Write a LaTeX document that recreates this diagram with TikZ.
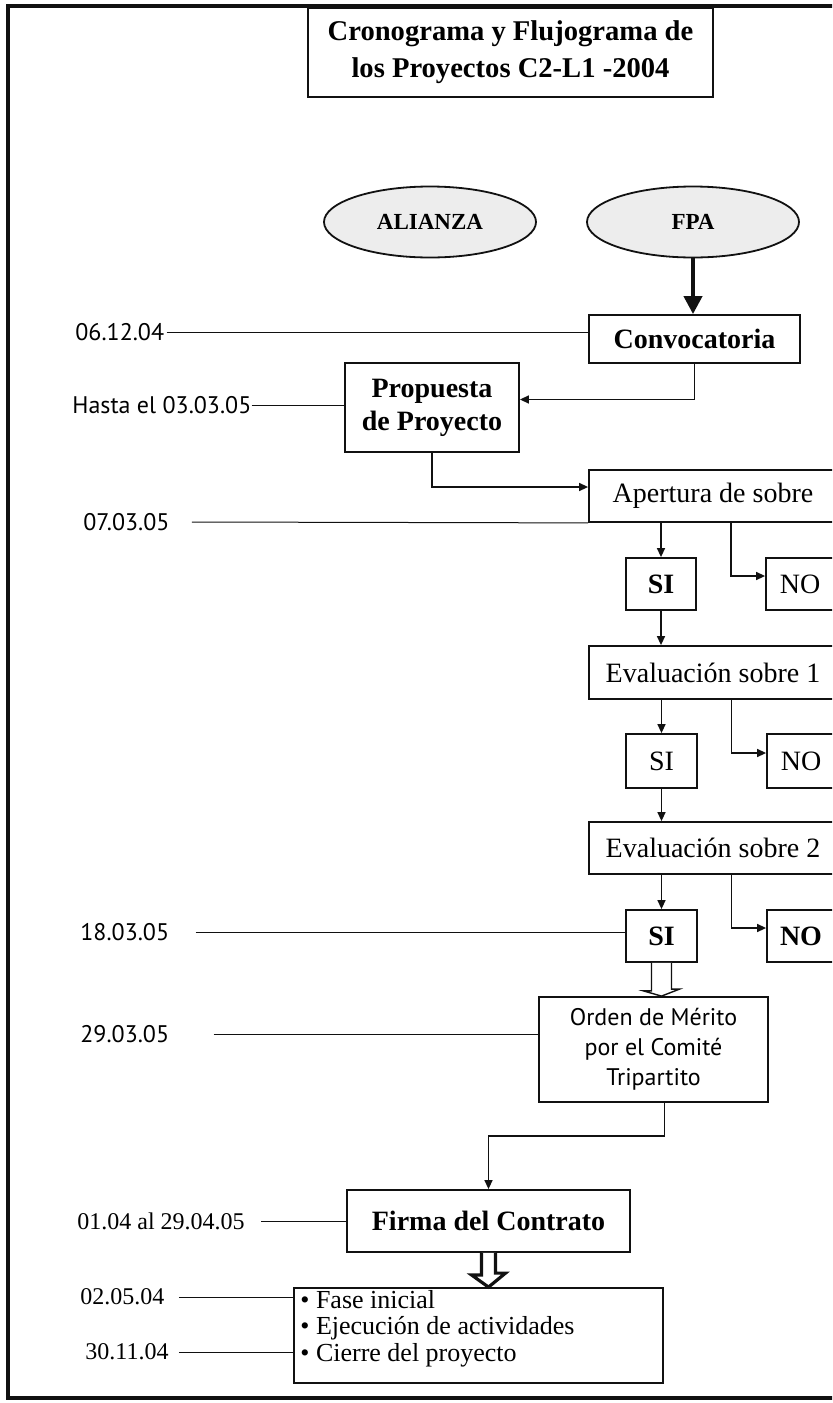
\documentclass[tikz,border=0pt]{standalone}
\usepackage{fontspec}
\setmainfont{Liberation Serif}
\newfontfamily\fechafont{PT Sans}
\usetikzlibrary{arrows.meta,calc,positioning,shapes.geometric}
\definecolor{tinta}{HTML}{111111}
\definecolor{punteado}{HTML}{EDEDED}
\tikzset{
  caja/.style={rectangle,draw=tinta,line width=0.9pt,inner sep=0pt,align=center,font=\fontsize{14}{16.5}\selectfont},
  cajaneg/.style={caja,font=\fontsize{14}{16.5}\selectfont\bfseries},
  elipse/.style={ellipse,draw=tinta,line width=0.9pt,fill=punteado,inner sep=0pt,minimum width=106pt,minimum height=35.5pt,font=\fontsize{11.5}{13}\selectfont\bfseries},
  fecha/.style={anchor=west,inner sep=0pt,font=\fechafont\fontsize{12}{14}\selectfont},
  fechaserif/.style={anchor=west,inner sep=0pt,font=\fontsize{12}{14}\selectfont},
  linea/.style={draw=tinta,line width=0.5pt},
  flecha/.style={draw=tinta,line width=0.7pt,-{Triangle[length=4.5pt,width=4pt]}},
  gruesa/.style={draw=tinta,line width=2pt,-{Triangle[length=9pt,width=9pt]}},
  hueca/.style={draw=tinta,line width=0.7pt,fill=white,line join=miter},
  marco/.style={draw=tinta,line width=1.6pt},
}
\begin{document}
\begin{tikzpicture}[x=0.5pt,y=-0.5pt]
\useasboundingbox (0,0) rectangle (832,1403);
\clip (0,0) rectangle (832,1403);
\draw[marco] (840,6) -- (8,6) -- (8,1398) -- (840,1398);
% titulo y origen
\node[cajaneg,minimum width=202.5pt,minimum height=44.5pt,font=\fontsize{14.3}{18.5}\selectfont\bfseries] (titulo) at (510.5,52.5) {Cronograma y Flujograma de\\los Proyectos C2-L1 -2004};
\node[elipse] (alianza) at (430,222) {ALIANZA};
\node[elipse] (fpa) at (693,222) {FPA};
% cajas del flujo
\node[cajaneg,minimum width=105.5pt,minimum height=24pt] (convoc) at (694.5,339) {Convocatoria};
\node[cajaneg,minimum width=87pt,minimum height=44.5pt] (propuesta) at (432,407.5) {Propuesta\\de Proyecto};
\node[caja,minimum width=124pt,minimum height=26pt] (apertura) at (713,496) {Apertura de sobre};
\node[cajaneg,minimum width=35pt,minimum height=26pt] (si1) at (661,584) {SI};
\node[caja,minimum width=34pt,minimum height=26pt] (no1) at (800,584) {NO};
\node[caja,minimum width=124pt,minimum height=26.5pt] (eval1) at (713,672.5) {Evaluación sobre 1};
\node[caja,minimum width=35.5pt,minimum height=27pt] (si2) at (661.5,761) {SI};
\node[caja,minimum width=34pt,minimum height=27pt] (no2) at (801,761) {NO};
\node[caja,minimum width=124pt,minimum height=26pt] (eval2) at (713,848) {Evaluación sobre 2};
\node[cajaneg,minimum width=35.5pt,minimum height=26pt] (si3) at (661.5,936) {SI};
\node[cajaneg,minimum width=34pt,minimum height=26pt] (no3) at (801,936) {NO};
\node[caja,minimum width=114.5pt,minimum height=52.5pt,font=\fechafont\fontsize{12}{15}\selectfont] (orden) at (653.5,1049.5) {Orden de Mérito\\por el Comité\\Tripartito};
\node[cajaneg,minimum width=141.5pt,minimum height=31pt] (firma) at (488.5,1221) {Firma del Contrato};
\node[caja,minimum width=184.5pt,minimum height=47.5pt] (lista) at (478.5,1335.5) {};
\node[anchor=north west,inner sep=0pt,align=left,font=\fontsize{13}{13.25}\selectfont] (items) at (300,1290) {\textbullet\ Fase inicial\\\textbullet\ Ejecución de actividades\\\textbullet\ Cierre del proyecto};
% fechas
\node[fecha] (f1) at (75,332) {06.12.04};
\node[fecha] (f2) at (72,405) {Hasta el 03.03.05};
\node[fecha] (f3) at (83,522) {07.03.05};
\node[fecha] (f4) at (80,932) {18.03.05};
\node[fecha] (f5) at (80,1034) {29.03.05};
\node[fechaserif] (f6) at (77,1221) {01.04 al 29.04.05};
\node[fechaserif] (f7) at (80,1297) {02.05.04};
\node[fechaserif] (f8) at (85,1352) {30.11.04};
\draw[linea] ([xshift=1pt]f1.east) -- (f1.east -| convoc.west);
\draw[linea] (f2.east) -- (f2.east -| propuesta.west);
\draw[linea] ([xshift=11pt]f3.east) -- (apertura.south west);
\draw[linea] ([xshift=13pt]f4.east) -- (f4.east -| si3.west);
\draw[linea] ([xshift=22pt]f5.east) -- (f5.east -| orden.west);
\draw[linea] ([xshift=8pt]f6.east) -- (f6.east -| firma.west);
\draw[linea] ([xshift=7pt]f7.east) -- (f7.east -| lista.west);
\draw[linea] ([xshift=5pt]f8.east) -- (f8.east -| lista.west);
% conectores
\draw[gruesa] (fpa.south) -- (fpa.south |- convoc.north);
\draw[flecha] (convoc.south) |- ([yshift=4pt]propuesta.east);
\draw[flecha] (propuesta.south) |- ([yshift=4.5pt]apertura.west);
\draw[flecha] (apertura.south -| si1.north) -- (si1.north);
\draw[flecha] ([xshift=35pt]apertura.south -| si1.north) |- ([yshift=4pt]no1.west);
\draw[flecha] (si1.south) -- (si1.south |- eval1.north);
\draw[flecha] (eval1.south -| si2.north) -- (si2.north);
\draw[flecha] ([xshift=35pt]eval1.south -| si2.north) |- ([yshift=4pt]no2.west);
\draw[flecha] (si2.south) -- (si2.south |- eval2.north);
\draw[flecha] (eval2.south -| si3.north) -- (si3.north);
\draw[flecha] ([xshift=35pt]eval2.south -| si3.north) |- ([yshift=4pt]no3.west);
\draw[hueca] ([xshift=-5pt]si3.south) -- ++(0,28) -- ++(-8,0) -- (si3.south |- orden.north) -- ++(18,-7) -- ++(-8,0) -- ([xshift=5pt]si3.south);
\draw[flecha] ([xshift=5.5pt]orden.south) -- ++(0,33) -| (firma.north);
\draw[hueca,line width=1.6pt] ([xshift=-3.5pt]firma.south) -- ++(0,22) -- ++(-10,0) -- (firma.south |- lista.north) -- ++(17,-14) -- ++(-10,0) -- ([xshift=3.5pt]firma.south);
\end{tikzpicture}
\end{document}
